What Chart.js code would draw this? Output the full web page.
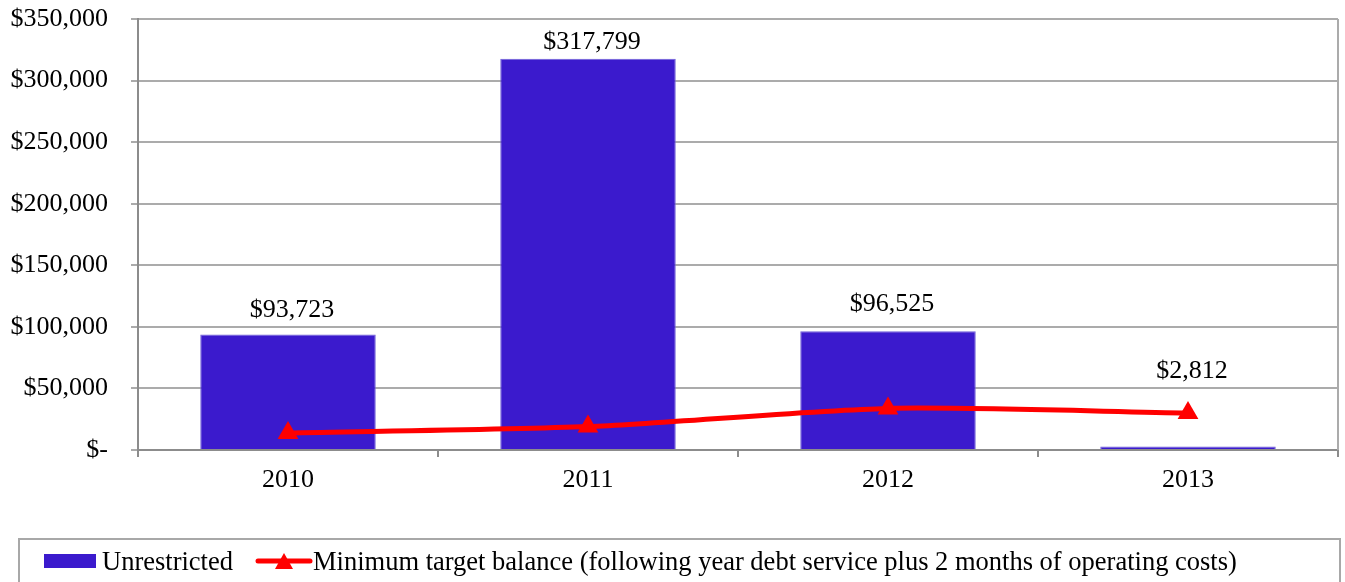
<!DOCTYPE html>
<html>
<head>
<meta charset="utf-8">
<script src="https://cdn.jsdelivr.net/npm/chart.js@4"></script>
<style>
  body { margin: 0; background: #fff; }
  #wrap { width: 1345px; height: 582px; }
</style>
</head>
<body>
<div id="wrap"><canvas id="balanceChart" width="1345" height="582"></canvas></div>
<script>
const years = ["2010", "2011", "2012", "2013"];
const unrestricted = [93723, 317799, 96525, 2812];
const minTarget = [13800, 19000, 33800, 30000];
const yTicks = [0, 50000, 100000, 150000, 200000, 250000, 300000, 350000];

const FONT = "'Liberation Serif', 'Times New Roman', serif";
const BAR_COLOR = "#3b1acd";
const LINE_COLOR = "#ff0000";
const GRID = "#ababab";
const AXIS = "#8c8c8c";

function money(v) {
  if (v === 0) return "$-";
  return "$" + v.toLocaleString("en-US");
}

// value labels sit above each bar; the last one is lifted clear of the line
const labelLift = [24, 16, 27, 75];

const barLabels = {
  id: "barLabels",
  afterDatasetsDraw(chart) {
    const ctx = chart.ctx;
    const meta = chart.getDatasetMeta(1);
    ctx.save();
    ctx.font = "26px " + FONT;
    ctx.fillStyle = "#000";
    ctx.textAlign = "center";
    ctx.textBaseline = "middle";
    meta.data.forEach((bar, i) => {
      ctx.fillText(money(unrestricted[i]), bar.x + 4, bar.y - labelLift[i]);
    });
    ctx.restore();
  }
};

const plotBorder = {
  id: "plotBorder",
  afterDraw(chart) {
    const { ctx, chartArea: a } = chart;
    ctx.save();
    ctx.strokeStyle = GRID;
    ctx.lineWidth = 2;
    ctx.beginPath();
    ctx.moveTo(a.right, a.top);
    ctx.lineTo(a.right, a.bottom);
    ctx.stroke();
    ctx.restore();
  }
};

const boxLegend = {
  id: "boxLegend",
  afterDraw(chart) {
    const ctx = chart.ctx;
    const cy = 561;
    const base = 570;
    ctx.save();
    ctx.strokeStyle = "#a8a8a8";
    ctx.lineWidth = 2;
    ctx.strokeRect(19, 539, 1321, 70);

    ctx.font = "26.5px " + FONT;
    ctx.textBaseline = "alphabetic";

    const bars = chart.data.datasets[1];
    ctx.fillStyle = bars.backgroundColor;
    ctx.fillRect(44, cy - 7, 52, 14);
    ctx.fillStyle = "#000";
    ctx.fillText(bars.label, 102, base);

    const line = chart.data.datasets[0];
    ctx.strokeStyle = LINE_COLOR;
    ctx.lineWidth = 5;
    ctx.lineCap = "round";
    ctx.beginPath();
    ctx.moveTo(258, cy);
    ctx.lineTo(310, cy);
    ctx.stroke();
    ctx.fillStyle = LINE_COLOR;
    ctx.beginPath();
    ctx.moveTo(284, cy - 8);
    ctx.lineTo(293, cy + 8);
    ctx.lineTo(275, cy + 8);
    ctx.closePath();
    ctx.fill();
    ctx.fillStyle = "#000";
    ctx.fillText(line.label, 313, base);
    ctx.restore();
  }
};

new Chart(document.getElementById("balanceChart"), {
  data: {
    labels: years,
    datasets: [
      {
        type: "line",
        label: "Minimum target balance (following year debt service plus 2 months of operating costs)",
        data: minTarget,
        borderColor: LINE_COLOR,
        backgroundColor: LINE_COLOR,
        borderWidth: 5,
        tension: 0.25,
        pointStyle: "triangle",
        pointRadius: 12,
        pointBorderWidth: 0,
        pointBackgroundColor: LINE_COLOR,
        order: 1
      },
      {
        type: "bar",
        label: "Unrestricted",
        data: unrestricted,
        backgroundColor: BAR_COLOR,
        borderColor: "#6f5fd8",
        borderWidth: 1,
        categoryPercentage: 1,
        barPercentage: 0.585,
        order: 2
      }
    ]
  },
  options: {
    responsive: false,
    animation: false,
    layout: { autoPadding: false, padding: { top: 19, right: 7, left: 0, bottom: 0 } },
    plugins: {
      legend: { display: false },
      tooltip: { enabled: false }
    },
    scales: {
      x: {
        offset: true,
        grid: { offset: true, drawOnChartArea: false, tickLength: 7, color: AXIS, lineWidth: 2 },
        border: { color: AXIS, width: 2 },
        ticks: { font: { family: FONT, size: 26 }, color: "#000", padding: 8 },
        afterFit(s) { s.height = 132; s.paddingLeft = 0; s.paddingRight = 0; }
      },
      y: {
        min: 0,
        max: 350000,
        afterBuildTicks(s) { s.ticks = yTicks.map(v => ({ value: v })); },
        grid: { color: GRID, lineWidth: 2, tickLength: 7 },
        border: { color: AXIS, width: 2 },
        ticks: {
          font: { family: FONT, size: 26 },
          color: "#000",
          padding: 23,
          callback: v => money(v)
        },
        afterFit(s) { s.width = 138; s.paddingTop = 0; s.paddingBottom = 0; }
      }
    }
  },
  plugins: [barLabels, plotBorder, boxLegend]
});
</script>
</body>
</html>
